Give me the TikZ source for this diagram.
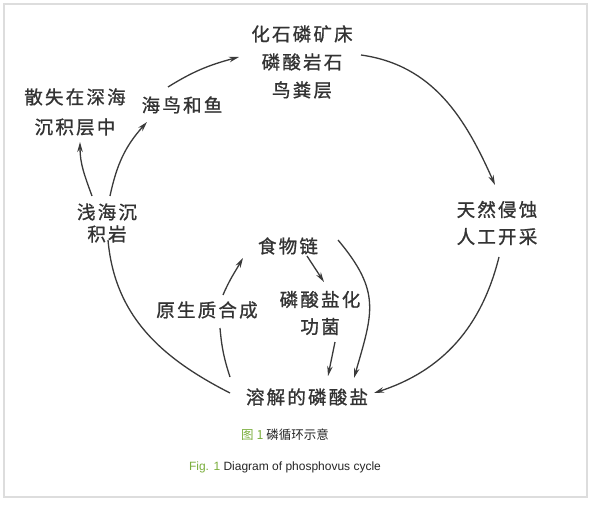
\documentclass[tikz,border=0pt]{standalone}
\usepackage{fontspec}
\setmainfont{Liberation Sans}
\newfontfamily\cjk[LetterSpace=12,FakeBold=1]{Noto Sans CJK SC}
\newfontfamily\cjkcap{Noto Sans CJK SC}
\usetikzlibrary{arrows.meta}
\definecolor{txt}{HTML}{333333}
\definecolor{ln}{HTML}{3A3A3A}
\definecolor{capgreen}{HTML}{7AAE3C}
\definecolor{frame}{HTML}{DDDDDD}
\tikzset{
  lbl/.style={text=txt, inner sep=0pt, align=center, font=\cjk\fontsize{18.5}{28}\selectfont},
  arr/.style={draw=ln, line width=1.3pt, -{Stealth[length=10pt,width=5.5pt]}},
  plain/.style={draw=ln, line width=1.3pt},
}
\begin{document}
\begin{tikzpicture}[x=1pt,y=-1pt]
\useasboundingbox (0,0) rectangle (597,505);
\fill[white] (0,0) rectangle (597,505);
\draw[frame, line width=2pt] (4,4) rectangle (587,497);

\node[lbl] (fossil) at (302,62) {化石磷矿床\\磷酸岩石\\鸟粪层};
\node[lbl, font=\cjk\fontsize{18.5}{30}\selectfont] (sanshi) at (75,112) {散失在深海\\沉积层中};
\node[lbl] (hainiao) at (182,105) {海鸟和鱼};
\node[lbl, font=\cjk\fontsize{18.5}{22}\selectfont] (qianhai) at (107,223) {浅海沉\\积岩};
\node[lbl, font=\cjk\fontsize{18.5}{27}\selectfont] (tianran) at (497,223) {天然侵蚀\\人工开采};
\node[lbl] (shiwu) at (288,246) {食物链};
\node[lbl, font=\cjk\fontsize{18.5}{27}\selectfont] (linsuan) at (320,313) {磷酸盐化\\功菌};
\node[lbl] (yuansheng) at (207,310) {原生质合成};
\node[lbl] (rongjie) at (307,397) {溶解的磷酸盐};

\node[inner sep=0pt, font=\cjkcap\fontsize{12.5}{14}\selectfont] (cap1) at (285,435) {\textcolor{capgreen}{图 1} \textcolor{black!85}{磷循环示意}};
\node[inner sep=0pt, font=\fontsize{12}{14}\selectfont] (cap2) at (285,467) {\textcolor{capgreen}{Fig. 1} \textcolor{black!85}{Diagram of phosphovus cycle}};

% outer cycle
\draw[arr] ([shift={(-14,-18)}]hainiao.center) to[out=32,in=195] ([shift={(-63,-5)}]fossil.center);
\draw[arr] ([shift={(59,-7)}]fossil.center) to[out=-8,in=114] ([shift={(-2,-38)}]tianran.center);
\draw[arr] ([shift={(2,34)}]tianran.center) to[out=-104,in=18] ([shift={(67,-4)}]rongjie.center);
\draw[plain] ([shift={(1,17)}]qianhai.center) to[out=-85,in=153] ([shift={(-77,-4)}]rongjie.center);
\draw[arr] ([shift={(-15,-27)}]qianhai.center) to[out=110,in=-90] ([shift={(5,30)}]sanshi.center);
\draw[arr] ([shift={(3,-27)}]qianhai.center) to[out=78,in=-132] ([shift={(-35,17)}]hainiao.center);

% inner cycle
\draw[plain] ([shift={(-77,-20)}]rongjie.center) to[out=108,in=-85] ([shift={(13,18)}]yuansheng.center);
\draw[arr] ([shift={(16,-15)}]yuansheng.center) to[out=67,in=-120] ([shift={(-45,12)}]shiwu.center);
\draw[arr] ([shift={(19,10)}]shiwu.center) -- ([shift={(4,-31)}]linsuan.center);
\draw[arr] ([shift={(15,29)}]linsuan.center) -- ([shift={(21,-21)}]rongjie.center);
\draw[arr] ([shift={(50,-6)}]shiwu.center) to[out=-50,in=74,looseness=1.25] ([shift={(47,-19)}]rongjie.center);
\end{tikzpicture}
\end{document}
